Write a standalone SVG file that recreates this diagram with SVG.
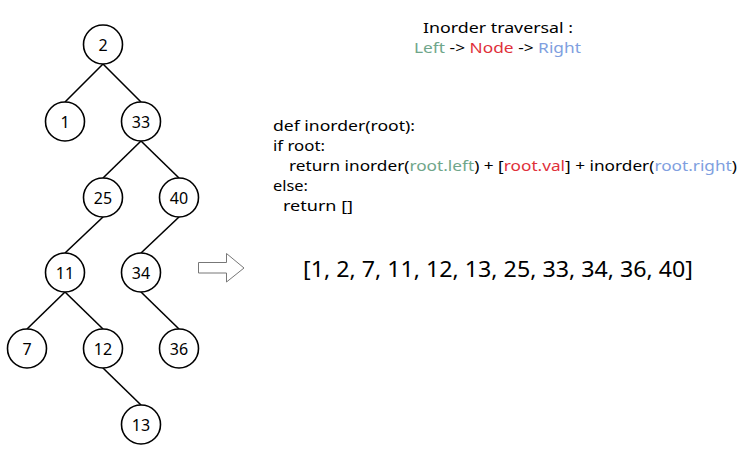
<svg xmlns="http://www.w3.org/2000/svg" width="751" height="455" viewBox="0 0 751 455">
<style>
.n circle{fill:#fff;stroke:#000;stroke-width:1.6}
.n text{font-family:"Comic Sans MS","Noto Sans",sans-serif;font-size:16px;text-anchor:middle;fill:#000}
#edges line{stroke:#000;stroke-width:1.6}
.t{font-family:"Comic Sans MS","Noto Sans",sans-serif;fill:#000}
.g{fill:#6fa68a}.r{fill:#e0303a}.b{fill:#809fe0}
</style>
<rect width="751" height="455" fill="#fff"/>
<g id="edges">
<line x1="103" y1="64" x2="65" y2="102"/>
<line x1="103" y1="64" x2="141" y2="102"/>
<line x1="141" y1="141" x2="103" y2="178"/>
<line x1="141" y1="141" x2="179" y2="178"/>
<line x1="103" y1="217" x2="65" y2="253"/>
<line x1="179" y1="217" x2="141" y2="253"/>
<line x1="65" y1="292" x2="27" y2="329"/>
<line x1="65" y1="292" x2="103" y2="329"/>
<line x1="141" y1="292" x2="179" y2="329"/>
<line x1="103" y1="368" x2="141" y2="405"/>
</g>
<g id="n2" class="n"><circle cx="103" cy="44.5" r="19.5"/><text x="103" y="50.5">2</text></g>
<g id="n1" class="n"><circle cx="65" cy="121.5" r="19.5"/><text x="65" y="127.5">1</text></g>
<g id="n33" class="n"><circle cx="141" cy="121.5" r="19.5"/><text x="141" y="127.5">33</text></g>
<g id="n25" class="n"><circle cx="103" cy="197.5" r="19.5"/><text x="103" y="203.5">25</text></g>
<g id="n40" class="n"><circle cx="179" cy="197.5" r="19.5"/><text x="179" y="203.5">40</text></g>
<g id="n11" class="n"><circle cx="65" cy="272.5" r="19.5"/><text x="65" y="278.5">11</text></g>
<g id="n34" class="n"><circle cx="141" cy="272.5" r="19.5"/><text x="141" y="278.5">34</text></g>
<g id="n7" class="n"><circle cx="27" cy="348.5" r="19.5"/><text x="27" y="354.5">7</text></g>
<g id="n12" class="n"><circle cx="103" cy="348.5" r="19.5"/><text x="103" y="354.5">12</text></g>
<g id="n36" class="n"><circle cx="179" cy="348.5" r="19.5"/><text x="179" y="354.5">36</text></g>
<g id="n13" class="n"><circle cx="141" cy="424.5" r="19.5"/><text x="141" y="430.5">13</text></g>
<g id="arrow"><path d="M198.5,262.5 H226.5 V253.5 L244,268 L226.5,282 V273 H198.5 Z" fill="#fff" stroke="#777" stroke-width="1"/></g>
<g id="title">
<text class="t" x="423" y="33" font-size="14" textLength="150" lengthAdjust="spacingAndGlyphs">Inorder traversal :</text>
<text class="t" x="414" y="53" font-size="15" textLength="167" lengthAdjust="spacingAndGlyphs"><tspan class="g">Left</tspan> -&gt; <tspan class="r">Node</tspan> -&gt; <tspan class="b">Right</tspan></text>
</g>
<g id="code" font-size="14">
<text class="t" x="273" y="131" textLength="142" lengthAdjust="spacingAndGlyphs">def inorder(root):</text>
<text class="t" x="273" y="151" textLength="52" lengthAdjust="spacingAndGlyphs">if root:</text>
<text class="t" x="289" y="171" textLength="448" lengthAdjust="spacingAndGlyphs">return inorder(<tspan class="g">root.left</tspan>) + [<tspan class="r">root.val</tspan>] + inorder(<tspan class="b">root.right</tspan>)</text>
<text class="t" x="273" y="191" textLength="35" lengthAdjust="spacingAndGlyphs">else:</text>
<text class="t" x="283" y="211" textLength="70" lengthAdjust="spacingAndGlyphs">return []</text>
</g>
<g id="result">
<text class="t" x="303" y="277" font-size="21" textLength="390" lengthAdjust="spacingAndGlyphs">[1, 2, 7, 11, 12, 13, 25, 33, 34, 36, 40]</text>
</g>
</svg>
